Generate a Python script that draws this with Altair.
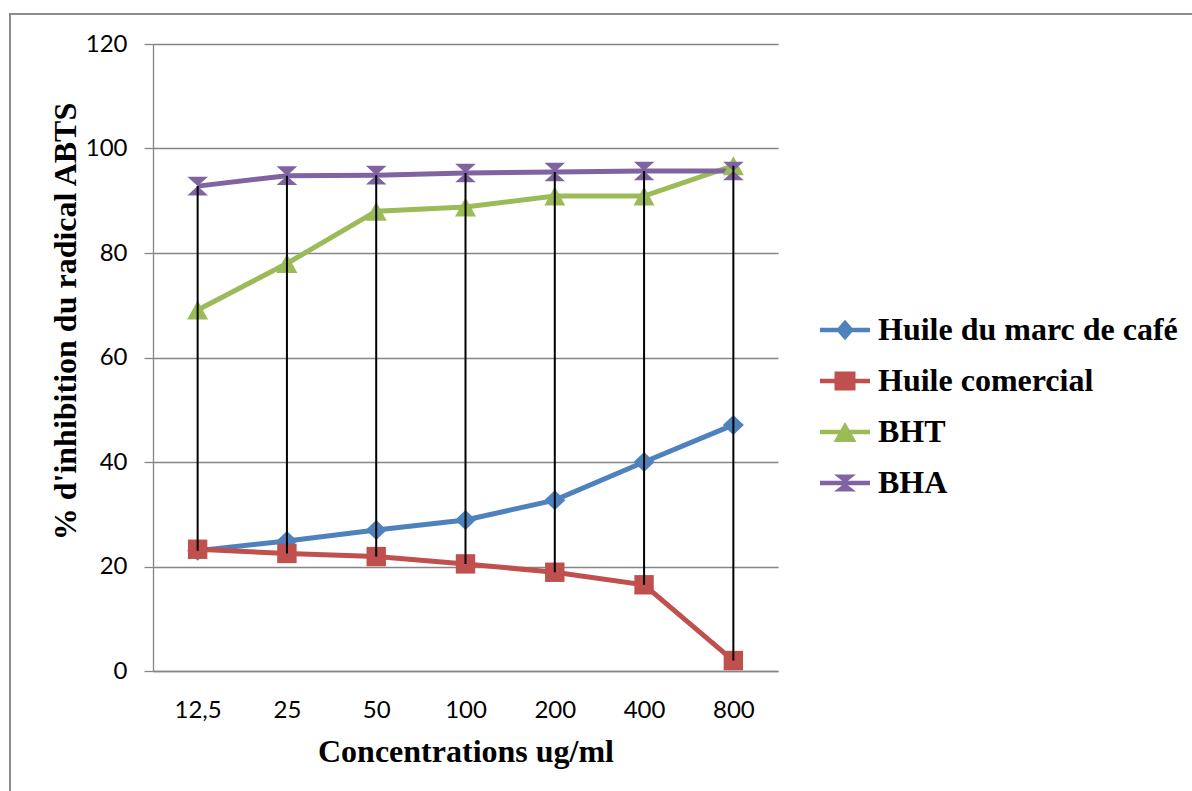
import altair as alt
import pandas as pd

categories = ["12,5", "25", "50", "100", "200", "400", "800"]
series_names = ["Huile du marc de café", "Huile comercial", "BHT", "BHA"]
huile_marc = [23.0, 24.9, 27.0, 28.9, 32.7, 40.0, 47.1]
huile_comercial = [23.3, 22.5, 21.9, 20.5, 18.9, 16.5, 2.0]
bht = [69.1, 78.0, 88.0, 88.8, 90.9, 90.9, 96.7]
bha = [92.8, 94.8, 94.9, 95.3, 95.5, 95.7, 95.7]
colors = ["#4F81BD", "#C0504D", "#9BBB59", "#8064A2"]

# marker shapes on the plot (units scaled by sqrt(size)/2)
marker_paths = [
    "M0,-1L1.05,0L0,1L-1.05,0Z",
    "M-0.97,-0.97H0.97V0.97H-0.97Z",
    "M0,-0.95L1.05,0.95H-1.05Z",
    "M-1.03,-0.93H1.03L0,0Z M0,0L1.03,0.93H-1.03Z",
]
bar = "M-1,-0.09H1V0.09H-1Z "
legend_paths = [
    bar + "M0,-0.41L0.36,0L0,0.41L-0.36,0Z",
    bar + "M-0.42,-0.38H0.42V0.38H-0.42Z",
    bar + "M0,-0.4L0.46,0.4H-0.46Z",
    bar + "M-0.44,-0.34H0.44L0,0Z M0,0L0.44,0.34H-0.44Z",
]

rows = []
for name, vals in zip(series_names, [huile_marc, huile_comercial, bht, bha]):
    for c, v in zip(categories, vals):
        rows.append({"conc": c, "series": name, "value": v})
df = pd.DataFrame(rows)

GRID = "#868686"
SERIF = "Liberation Serif"
SANS = "Lato"

x_enc = alt.X(
    "conc:N",
    sort=categories,
    scale=alt.Scale(type="point", domain=categories, padding=0.5),
    axis=alt.Axis(
        ticks=False, grid=False, labelAngle=0, domainColor=GRID, domainWidth=1.3,
        labelFont=SANS, labelFontSize=24, labelColor="black",
        labelBaseline="alphabetic", labelPadding=46,
        title="Concentrations ug/ml", titleFont=SERIF, titleFontSize=32,
        titleFontWeight="bold", titleColor="black",
        titleY=90, titleBaseline="alphabetic",
    ),
)
y_enc = alt.Y(
    "value:Q",
    scale=alt.Scale(domain=[0, 120], nice=False),
    axis=alt.Axis(
        values=list(range(0, 121, 20)), grid=True, gridColor=GRID, gridWidth=1.3,
        domainColor=GRID, domainWidth=1.3, tickColor=GRID, tickSize=9, tickWidth=1.3,
        labelFont=SANS, labelFontSize=24, labelColor="black", labelPadding=17,
        title="% d'inhibition du radical ABTS", titleFont=SERIF, titleFontSize=32,
        titleFontWeight="bold", titleColor="black",
        titleX=-78, titleY=277, titleBaseline="alphabetic", titleAlign="center",
    ),
)

color_scale = alt.Scale(domain=series_names, range=colors)

base = alt.Chart(df)

border = alt.Chart(alt.Data(values=[{"a": 1}])).mark_rect(
    fill="transparent", stroke="#8c8c8c", strokeWidth=2
).encode(
    x=alt.value(-143), x2=alt.value(1100), y=alt.value(-30), y2=alt.value(800)
)

lines = base.mark_line(strokeWidth=5).encode(
    x=x_enc, y=y_enc,
    color=alt.Color("series:N", scale=color_scale, legend=None),
    detail="series:N",
)

points = base.mark_point(filled=True, opacity=1, size=400).encode(
    x=x_enc, y=y_enc,
    color=alt.Color("series:N", scale=color_scale, legend=None),
    shape=alt.Shape("series:N", scale=alt.Scale(domain=series_names, range=marker_paths), legend=None),
)

hilo = base.mark_rule(color="black", strokeWidth=2).encode(
    x=x_enc,
    y=alt.Y("max(value):Q"),
    y2=alt.Y2("min(value)"),
)

leg = alt.Legend(
    title=None, orient="none", legendX=667, legendY=261, symbolSize=2500,
    labelFont=SERIF, labelFontSize=32, labelFontWeight="bold", labelColor="black",
    labelOffset=8, rowPadding=10, padding=0, symbolOpacity=1, symbolStrokeWidth=0,
    labelLimit=600,
)
legend_layer = base.transform_filter("false").mark_point(filled=True, opacity=1).encode(
    color=alt.Color("series:N", scale=color_scale, legend=leg),
    shape=alt.Shape("series:N", scale=alt.Scale(domain=series_names, range=legend_paths), legend=leg),
)

chart = alt.layer(border, lines, points, hilo, legend_layer).resolve_scale(
    color="independent", shape="independent"
).properties(
    width=625, height=627,
    padding={"left": 153, "top": 44, "right": 414, "bottom": 120},
    autosize=alt.AutoSizeParams(type="none"),
).configure_view(stroke=None)

chart.save("out.html", embed_options={"renderer": "svg", "actions": False})
